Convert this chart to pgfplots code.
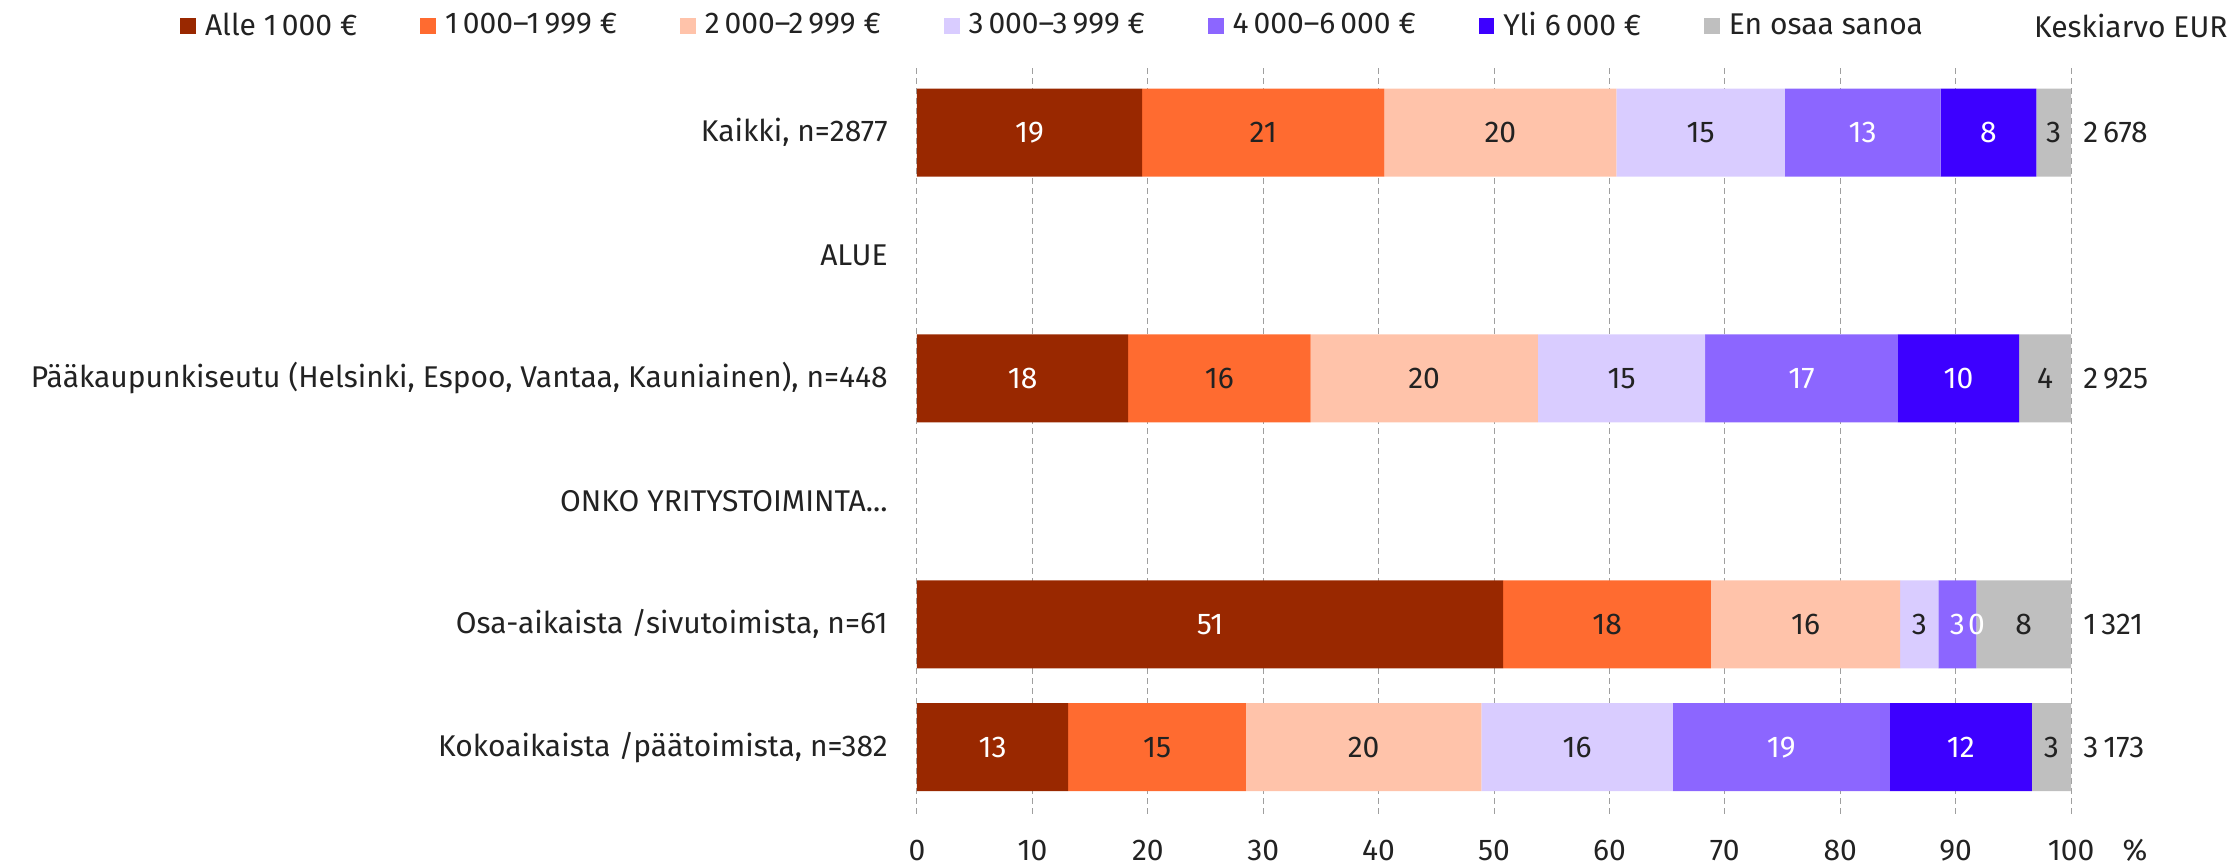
\documentclass[border=0pt]{standalone}
\usepackage{pgfplots}
\pgfplotsset{compat=1.18}
\usepackage{pgfplotstable}
\usepackage{fontspec}
\setmainfont{Fira Sans}

\definecolor{c1}{HTML}{992800}
\definecolor{c2}{HTML}{FF6B30}
\definecolor{c3}{HTML}{FFC3AA}
\definecolor{c4}{HTML}{D9CCFF}
\definecolor{c5}{HTML}{8C66FF}
\definecolor{c6}{HTML}{3D00FF}
\definecolor{c7}{HTML}{BFBFBF}
\definecolor{txt}{HTML}{222222}

% shares in percent, rows at y = 0,2,4,5 (1 and 3 are headings)
\pgfplotstableread{
y a b c d e f g
0 19.5 21.0 20.1 14.6 13.5 8.3 3.0
2 18.3 15.8 19.7 14.5 16.7 10.5 4.5
4 50.8 18.0 16.4 3.3 3.3 0.0 8.2
5 13.1 15.4 20.4 16.6 18.8 12.3 3.4
}\shares

% label positions (segment middles)
\pgfplotstableread{
x y lab
9.75 0 19
81.95 0 13
92.85 0 8
9.15 2 18
76.65 2 17
90.25 2 10
25.4 4 51
90.15 4 3
91.8 4 0
6.55 5 13
74.9 5 19
90.45 5 12
}\whitelabels

\pgfplotstableread{
x y lab
30.0 0 21
50.55 0 20
67.9 0 15
98.5 0 3
26.2 2 16
43.95 2 20
61.05 2 15
97.75 2 4
59.8 4 18
77.0 4 16
86.85 4 3
95.9 4 8
20.8 5 15
38.7 5 20
57.2 5 16
98.3 5 3
}\darklabels

\pgfplotstableread{
x y lab
100 0 2\,678
100 2 2\,925
100 4 1\,321
100 5 3\,173
}\means

\pgfplotsset{
  base/.style={width=577pt, height=374pt, scale only axis,
    xmin=0, xmax=100, ymin=-0.526, ymax=5.56, y dir=reverse, clip=false},
  lbl/.style={only marks, mark=*, mark size=0pt, mark options={draw=none, fill=none},
    nodes near coords, point meta=explicit symbolic},
  sq/.style={legend image code/.code={\path[##1, draw=none] (0pt,-3.9pt) rectangle (7.8pt,3.9pt);}},
}

\begin{document}
\fontsize{15pt}{17pt}\selectfont
\begin{tikzpicture}
\useasboundingbox (-458.5pt,-24.5pt) rectangle (659.5pt,408pt);
\begin{axis}[base, xbar stacked, bar width=44pt,
  xtick={0,10,20,30,40,50,60,70,80,90,100}, ytick={0,1,2,3,4,5},
  yticklabels={{Kaikki, n=2877}, {ALUE}, {Pääkaupunkiseutu (Helsinki, Espoo, Vantaa, Kauniainen), n=448}, {ONKO YRITYSTOIMINTA.{}.{}.}, {Osa-aikaista /sivutoimista, n=61}, {Kokoaikaista /päätoimista, n=382}},
  xmajorgrids, major grid style={densely dashed, gray!75, line width=0.5pt},
  axis line style={draw=none}, tick style={draw=none},
  /pgf/number format/assume math mode=true,
  tick label style={text=txt},
  xticklabel style={anchor=base, yshift=-22pt},
  yticklabel style={inner xsep=0pt, xshift=-14.5pt},
  xlabel={\%}, xlabel style={at={(axis description cs:1.0555,0)}, anchor=base, yshift=-22pt, text=txt},
  legend style={at={(axis description cs:-0.6386,1.0561)}, anchor=west, draw=none, fill=none,
    inner sep=0pt, nodes={inner sep=0pt}, text=txt,
    /tikz/every odd column/.append style={column sep=4.5pt},
    /tikz/every even column/.append style={column sep=31.5pt}},
  legend columns=-1,
]
\addplot[fill=c1, draw=none, sq] table[x=a, y=y] \shares;
\addplot[fill=c2, draw=none, sq] table[x=b, y=y] \shares;
\addplot[fill=c3, draw=none, sq] table[x=c, y=y] \shares;
\addplot[fill=c4, draw=none, sq] table[x=d, y=y] \shares;
\addplot[fill=c5, draw=none, sq] table[x=e, y=y] \shares;
\addplot[fill=c6, draw=none, sq] table[x=f, y=y] \shares;
\addplot[fill=c7, draw=none, sq] table[x=g, y=y] \shares;
\legend{Alle 1\,000 €, 1\,000–1\,999 €, 2\,000–2\,999 €, 3\,000–3\,999 €, 4\,000–6\,000 €, Yli 6\,000 €, En osaa sanoa}
\node[anchor=east, inner sep=0pt, text=txt] at (axis description cs:1.136,1.0561) {Keskiarvo EUR};
\end{axis}
\begin{axis}[base, hide axis]
\addplot[lbl, every node near coord/.append style={anchor=center, text=white}]
  table[x=x, y=y, meta=lab] \whitelabels;
\addplot[lbl, every node near coord/.append style={anchor=center, text=txt}]
  table[x=x, y=y, meta=lab] \darklabels;
\addplot[lbl, every node near coord/.append style={anchor=west, inner xsep=0pt, xshift=6pt, text=txt}]
  table[x=x, y=y, meta=lab] \means;
\end{axis}
\end{tikzpicture}
\end{document}
